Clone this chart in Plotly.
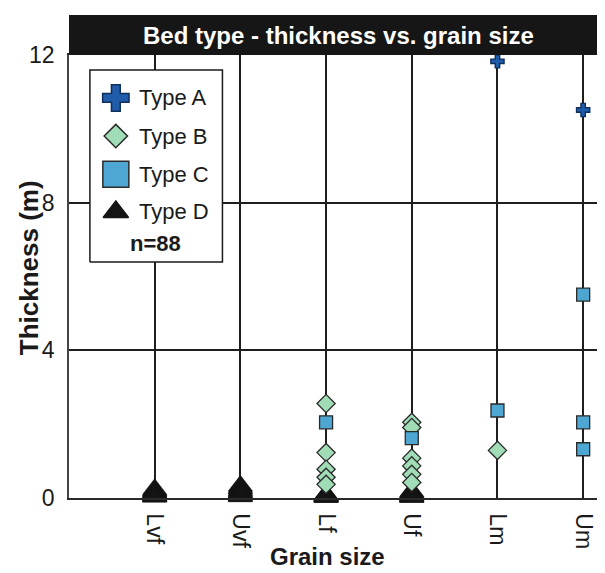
import plotly.graph_objects as go

# ---------------- data ----------------
categories = ["Lvf", "Uvf", "Lf", "Uf", "Lm", "Um"]
y_ticks = [0, 4, 8, 12]

a_x = ["Lm", "Um"]
a_y = [11.83, 10.51]

b_x = ["Lf", "Lf", "Lf", "Lf", "Lf", "Uf", "Uf", "Uf", "Uf", "Uf", "Uf", "Lm"]
b_y = [2.56, 1.23, 0.78, 0.56, 0.37, 2.05, 1.91, 1.08, 0.87, 0.64, 0.42, 1.29]

c_x = ["Lf", "Uf", "Lm", "Um", "Um", "Um"]
c_y = [2.05, 1.62, 2.37, 5.51, 2.05, 1.32]

d_lvf = [0.24, 0.21, 0.2, 0.18, 0.17, 0.15, 0.14, 0.13, 0.12, 0.11, 0.1, 0.1,
         0.09, 0.08, 0.07, 0.06, 0.05, 0.05, 0.04, 0.03]
d_uvf = [0.33, 0.3, 0.27, 0.25, 0.22, 0.2, 0.18, 0.16, 0.15, 0.13, 0.12, 0.1,
         0.09, 0.08, 0.06, 0.05, 0.04]
d_lf = [0.1, 0.09, 0.08, 0.08, 0.07, 0.06, 0.06, 0.05, 0.05, 0.04, 0.04, 0.03,
        0.03, 0.02]
d_uf = [0.18, 0.16, 0.15, 0.13, 0.12, 0.11, 0.1, 0.09, 0.08, 0.07, 0.06, 0.06,
        0.05, 0.04, 0.04, 0.03, 0.02]
d_x = ["Lvf"] * len(d_lvf) + ["Uvf"] * len(d_uvf) + ["Lf"] * len(d_lf) + ["Uf"] * len(d_uf)
d_y = d_lvf + d_uvf + d_lf + d_uf

legend_names = ["Type A", "Type B", "Type C", "Type D"]
n_label = "n=88"

# ---------------- styles ----------------
FONT = "Liberation Sans, Arial, Helvetica, sans-serif"
COL_A = "#1f5ca9"
COL_B = "#a0dcb6"
COL_C = "#4ea6d2"
COL_D = "#141414"
EDGE = "#2a2a2a"

fig = go.Figure()

fig.add_trace(go.Scatter(
    x=d_x, y=d_y, mode="markers", cliponaxis=False, showlegend=False,
    marker=dict(symbol="triangle-up", size=21, color=COL_D,
                line=dict(color=COL_D, width=0.5))))
fig.add_trace(go.Scatter(
    x=b_x, y=b_y, mode="markers", cliponaxis=False, showlegend=False,
    marker=dict(symbol="diamond", size=14, color=COL_B,
                line=dict(color=EDGE, width=1.3))))
fig.add_trace(go.Scatter(
    x=c_x, y=c_y, mode="markers", cliponaxis=False, showlegend=False,
    marker=dict(symbol="square", size=13, color=COL_C,
                line=dict(color=EDGE, width=1.3))))
fig.add_trace(go.Scatter(
    x=a_x, y=a_y, mode="markers", cliponaxis=False, showlegend=False,
    marker=dict(symbol="cross", size=11, color=COL_A,
                line=dict(color="#0f2f5c", width=1.4))))

# ---------- manual legend (overlay axes in 0..1 plot-area coords) ----------
bx0, bx1, by0, by1 = 0.0388, 0.2847, 0.5327, 0.966
fig.add_trace(go.Scatter(
    x=[bx0, bx1, bx1, bx0, bx0], y=[by0, by0, by1, by1, by0],
    xaxis="x2", yaxis="y2", mode="lines", fill="toself", fillcolor="white",
    line=dict(color="#1a1a1a", width=1.5), showlegend=False, hoverinfo="skip"))

leg_mx = 0.0869
leg_ys = [0.903, 0.817, 0.731, 0.6456]
leg_symbols = ["cross", "diamond", "square", "triangle-up"]
leg_sizes = [22, 18, 26, 22]
leg_cols = [COL_A, COL_B, COL_C, COL_D]
leg_edges = ["#0f2f5c", EDGE, EDGE, COL_D]
for sym, sz, col, ec, ly in zip(leg_symbols, leg_sizes, leg_cols, leg_edges, leg_ys):
    fig.add_trace(go.Scatter(
        x=[leg_mx], y=[ly], xaxis="x2", yaxis="y2", mode="markers",
        showlegend=False, hoverinfo="skip", cliponaxis=False,
        marker=dict(symbol=sym, size=sz, color=col, line=dict(color=ec, width=1.5))))

annotations = []
for name, ly in zip(legend_names, leg_ys):
    annotations.append(dict(
        text=name, xref="paper", yref="paper", x=0.1257, y=ly,
        xanchor="left", yanchor="middle", showarrow=False,
        font=dict(family=FONT, size=22, color="#1a1a1a")))
annotations.append(dict(
    text="<b>" + n_label + "</b>", xref="paper", yref="paper", x=0.161, y=0.5756,
    xanchor="center", yanchor="middle", showarrow=False,
    font=dict(family=FONT, size=22, color="#1a1a1a")))

# title inside black bar
annotations.append(dict(
    text="<b>Bed type - thickness vs. grain size</b>", xref="paper", yref="paper",
    x=0.5, y=1.045, xanchor="center", yanchor="middle", showarrow=False,
    font=dict(family=FONT, size=24, color="white")))
# axis titles
annotations.append(dict(
    text="<b>Thickness (m)</b>", xref="paper", yref="paper", x=-0.074, y=0.519,
    xanchor="center", yanchor="middle", textangle=-90, showarrow=False,
    font=dict(family=FONT, size=26, color="#1a1a1a")))
annotations.append(dict(
    text="<b>Grain size</b>", xref="paper", yref="paper", x=0.4787, y=-0.133,
    xanchor="center", yanchor="middle", showarrow=False,
    font=dict(family=FONT, size=24, color="#1a1a1a")))

shapes = [
    dict(type="rect", xref="paper", yref="paper", x0=0, x1=1, y0=1, y1=1.0903,
         fillcolor="#161616", line=dict(width=0), layer="above"),
]

fig.update_layout(
    width=605, height=573,
    margin=dict(l=61, r=3, t=47, b=83),
    paper_bgcolor="white", plot_bgcolor="white",
    font=dict(family=FONT, color="#1a1a1a"),
    showlegend=False,
    annotations=annotations,
    shapes=shapes,
    xaxis=dict(
        type="category", categoryorder="array", categoryarray=categories,
        range=[-1, 5.29], tickangle=90,
        tickfont=dict(family=FONT, size=23, color="#1a1a1a"),
        showgrid=True, gridcolor="#1e1e1e", gridwidth=1.5,
        ticks="outside", ticklen=9, tickcolor="rgba(0,0,0,0)",
        showline=True, linecolor="#2a2a2a", linewidth=1.5, mirror=True,
        zeroline=False, fixedrange=True),
    yaxis=dict(
        range=[0, 12], tickvals=y_ticks,
        tickfont=dict(family=FONT, size=23, color="#1a1a1a"),
        showgrid=True, gridcolor="#1e1e1e", gridwidth=1.5,
        ticks="outside", ticklen=8, tickcolor="rgba(0,0,0,0)",
        showline=True, linecolor="#444444", linewidth=1.5, mirror=True,
        zeroline=False, fixedrange=True),
    xaxis2=dict(overlaying="x", range=[0, 1], visible=False, fixedrange=True),
    yaxis2=dict(overlaying="y", range=[0, 1], visible=False, fixedrange=True),
)

fig.write_html("out.html")
